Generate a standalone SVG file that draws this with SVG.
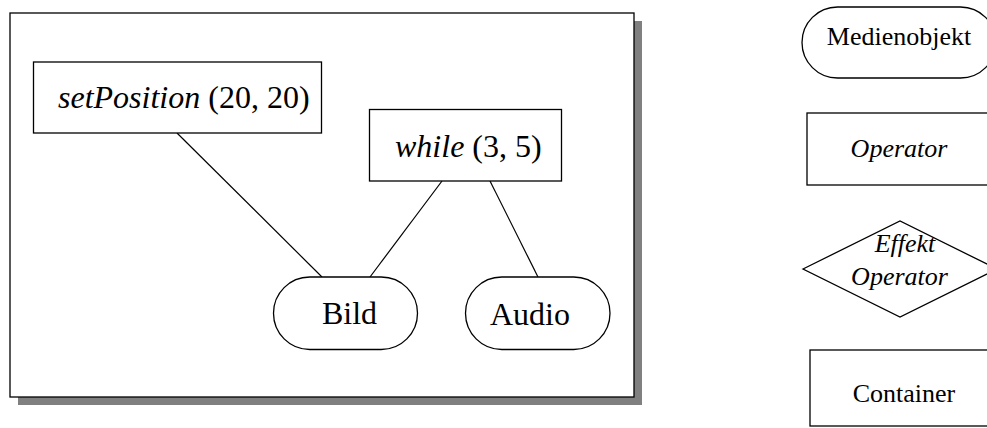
<svg xmlns="http://www.w3.org/2000/svg" width="987" height="428" viewBox="0 0 987 428" font-family="'Liberation Serif', 'Times New Roman', 'DejaVu Serif', serif">
  <style>
    .shape { fill: #ffffff; stroke: #000000; stroke-width: 1.3; }
    .link { stroke: #000000; stroke-width: 1.2; fill: none; }
    text { font-family: 'Liberation Serif', 'DejaVu Serif', serif; fill: #000000; }
    .big { font-size: 32px; }
    .small { font-size: 26px; }
    .it { font-style: italic; }
  </style>

  <rect width="987" height="428" fill="#ffffff"/>

  <!-- container frame with drop shadow -->
  <g id="frame">
    <rect x="18" y="21" width="624" height="384" fill="#808080"/>
    <rect class="shape" x="10" y="13" width="624" height="384"/>
  </g>

  <!-- edges between operators and media objects -->
  <g id="connectors">
    <line class="link" x1="177" y1="133" x2="322" y2="277"/>
    <line class="link" x1="442" y1="181" x2="370" y2="277"/>
    <line class="link" x1="490" y1="181" x2="538" y2="277"/>
  </g>

  <g id="setPosition">
    <rect class="shape" x="33.5" y="62" width="288" height="71"/>
    <text class="big" x="58" y="108"><tspan class="it">setPosition</tspan> (20, 20)</text>
  </g>

  <g id="while">
    <rect class="shape" x="369.5" y="109.5" width="192" height="71.5"/>
    <text class="big" x="395" y="157"><tspan class="it">while</tspan> (3, 5)</text>
  </g>

  <g id="bild">
    <rect class="shape" x="273.5" y="277" width="144" height="72.5" rx="36.25" ry="36.25"/>
    <text class="big" x="349.5" y="324" text-anchor="middle">Bild</text>
  </g>

  <g id="audio">
    <rect class="shape" x="465.5" y="277" width="144.5" height="72.5" rx="36.25" ry="36.25"/>
    <text class="big" x="530" y="325" text-anchor="middle">Audio</text>
  </g>

  <!-- legend -->
  <g id="legend-medienobjekt">
    <rect class="shape" x="802" y="7" width="194" height="71" rx="35.5" ry="35.5"/>
    <text class="small" x="899" y="45" text-anchor="middle">Medienobjekt</text>
  </g>

  <g id="legend-operator">
    <rect class="shape" x="807" y="113" width="190" height="72"/>
    <text class="small it" x="899" y="157" text-anchor="middle">Operator</text>
  </g>

  <g id="legend-effekt-operator">
    <polygon class="shape" points="803,269 900,221 997,269 900,317"/>
    <text class="small it" x="905" y="252" text-anchor="middle">Effekt</text>
    <text class="small it" x="899.5" y="285" text-anchor="middle">Operator</text>
  </g>

  <g id="legend-container">
    <rect class="shape" x="810" y="350" width="190" height="76"/>
    <text class="small" x="904" y="402" text-anchor="middle">Container</text>
  </g>
</svg>
